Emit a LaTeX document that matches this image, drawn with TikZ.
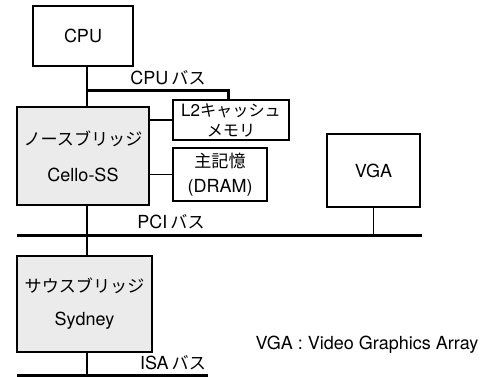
\documentclass[tikz,border=0pt]{standalone}
\usepackage{fontspec}
\setmainfont{TeX Gyre Heros}
\newfontfamily\jp[Scale=0.95]{Noto Sans CJK JP}
\usetikzlibrary{positioning}

\begin{document}
\begin{tikzpicture}[x=1pt,y=-1pt,
  every node/.style={font=\fontsize{18}{22}\selectfont, inner sep=0pt},
  unit/.style={draw, line width=1.1pt, align=center},
  bridge/.style={draw, line width=2pt, fill=black!8, align=center},
  bus/.style={line width=3pt},
  wire/.style={line width=1.1pt}]
\useasboundingbox (0,0) rectangle (489,376);

% boxes
\node[unit, minimum width=100, minimum height=60] (cpu) at (83,36) {CPU};
\node[bridge, minimum width=132, minimum height=98, font=\fontsize{18}{36}\selectfont] (nb) at (83,156) {{\jp ノースブリッジ}\\Cello-SS};
\node[unit, minimum width=116, minimum height=40, font=\fontsize{17}{20}\selectfont] (l2) at (231,120) {L2{\jp キャッシュ}\\{\jp メモリ}};
\node[unit, minimum width=94, minimum height=53, font=\fontsize{18}{25}\selectfont] (mem) at (220,174.5) {{\jp 主記憶}\\(DRAM)};
\node[unit, minimum width=93, minimum height=73] (vga) at (373.5,170.5) {VGA};
\node[bridge, minimum width=135, minimum height=96, font=\fontsize{18}{33}\selectfont] (sb) at (84.5,304) {{\jp サウスブリッジ}\\Sydney};

% buses
\coordinate (trunk) at (87,0);
\coordinate (cpubus) at (87,90);
\coordinate (pcil) at (17,235);
\coordinate (pcir) at (422,235);
\coordinate (isal) at (17,375);
\coordinate (isar) at (208,375);
\draw[bus] (cpubus) -- (cpubus -| 228,0) -- (l2.north -| 228,0);
\draw[bus] (pcil) -- (pcir);
\draw[bus] (isal) -- (isar);

% wires
\draw[wire] (cpu.south -| trunk) -- (nb.north -| trunk);
\draw[wire] (nb.south -| trunk) -- (sb.north -| trunk);
\draw[wire] (sb.south -| trunk) -- (isal -| trunk);
\draw[wire] (nb.east |- l2.west) -- (l2.west);
\draw[wire] (nb.east |- mem.west) -- (mem.west);
\draw[wire] (vga.south) -- (vga.south |- pcir);

% labels
\node (cpulbl) at (168,78) {CPU\kern3pt{\jp バス}};
\node (pcilbl) at (171,222) {PCI\kern3pt{\jp バス}};
\node (isalbl) at (173,363) {ISA\kern3pt{\jp バス}};
\node (note) at (367,345) {VGA : Video Graphics Array};
\end{tikzpicture}
\end{document}
